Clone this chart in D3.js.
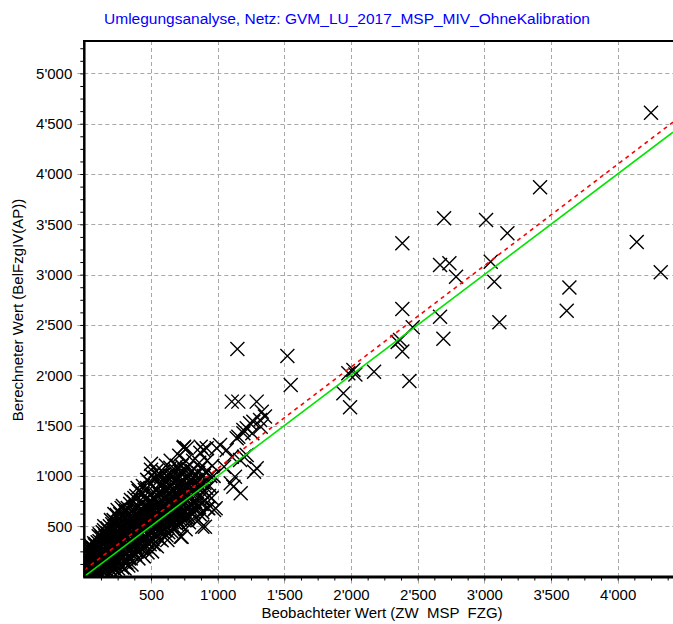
<!DOCTYPE html>
<html>
<head>
<meta charset="utf-8">
<script src="https://cdn.jsdelivr.net/npm/d3@7"></script>
<style>
  body { margin: 0; background: #fff; }
  text { font-family: "Liberation Sans", Arial, sans-serif; }
</style>
</head>
<body>
<script>
var titel = "Umlegungsanalyse, Netz: GVM_LU_2017_MSP_MIV_OhneKalibration";
var xTitel = "Beobachteter Wert (ZW  MSP  FZG)";
var yTitel = "Berechneter Wert (BelFzgIV(AP))";

var xTicks = [500, 1000, 1500, 2000, 2500, 3000, 3500, 4000];
var yTicks = [500, 1000, 1500, 2000, 2500, 3000, 3500, 4000, 4500, 5000];
var xMax = 4415, yMax = 5322;

// Regressionsgerade: Achsenabschnitt, Steigung
var regression = [65, 1.008];

// einzelne Punkte (beobachtet, berechnet)
var punkteStreu = [
  [4250,4610],[3418,3869],[2698,3561],[3013,3544],[3173,3412],[2385,3312],[4143,3325],
  [2668,3096],[2738,3113],[2788,2980],[3048,3129],[3075,2930],[4323,3024],[3638,2871],
  [3618,2642],[2385,2659],[2668,2582],[2463,2477],[3113,2527],[2693,2364],[2368,2351],
  [2350,2330],[2385,2235],[2173,2036],[2438,1943],[1148,2261],[1523,2192],[1548,1904],
  [1980,2020],[2018,2053],[2033,2008],[1943,1821],[1993,1682],
  [1106,1738],[1155,1738],[1293,1738],[1331,1638],[1355,1589],[1318,1556],[1268,1539],
  [1243,1523],[1218,1473],[1193,1456],[1193,1423],[1155,1390],[1143,1374],[1260,1423],
  [1323,1489],[768,1274],[893,1257],[918,1274],[993,1274],[1018,1307],[1068,1257],
  [1106,1191],[1168,1158],[1218,1208],[1198,1191],[1293,1076],[1273,1042],[1048,1091],
  [1130,992],[1098,926],[1118,893],[1173,827],[930,678],[973,661],[985,678],[860,694],
  [905,495],[885,495],[730,396],[723,396],[623,363],[873,1290],[748,1290]
];

// dichte Punktwolke bei kleinen Werten
var punkteBallung = [
  [8,15],[12,95],[15,180],[18,260],[22,45],[28,130],[30,220],[35,300],[40,20],[45,85],
  [48,170],[52,250],[58,40],[62,120],[66,200],[70,280],[74,330],[78,70],[82,150],[86,230],
  [90,20],[95,100],[98,300],[102,180],[106,260],[110,50],[114,350],[118,130],[120,220],
  [125,400],[128,30],[132,90],[136,170],[140,250],[144,320],[148,460],[152,60],[156,140],
  [160,210],[164,290],[168,370],[172,430],[176,100],[180,180],[184,260],[188,340],[192,500],
  [196,30],[200,130],[204,220],[208,300],[212,390],[216,460],[220,560],[224,80],[228,170],
  [232,250],[236,330],[240,410],[244,610],[248,500],[252,40],[256,140],
  [260,220],[264,300],[268,380],[272,460],[276,540],[280,680],[284,90],[288,190],[292,270],
  [296,350],[300,430],[304,510],[308,590],[312,650],[316,140],[320,230],[324,310],[328,390],
  [332,470],[336,550],[340,620],[344,720],[348,180],[352,270],[356,350],[360,430],[364,510],
  [368,590],[372,660],[376,780],[380,220],[384,300],[388,380],[392,460],[396,540],[400,620],
  [404,700],[408,850],
  [412,250],[416,340],[420,420],[424,500],[428,580],[432,660],[436,740],[440,900],[444,300],
  [448,380],[452,460],[456,540],[460,620],[464,700],[468,780],[472,960],[476,330],[480,420],
  [484,500],[488,580],[492,660],[496,740],[500,820],[504,1000],[500,1120],[508,250],[512,370],
  [516,450],[520,530],[524,610],[528,690],[532,770],[536,860],[540,1050],[544,300],[548,400],
  [552,490],[556,570],[560,650],
  [564,730],[568,810],[572,900],[576,1000],[580,360],[584,450],[588,530],[592,610],[596,690],
  [600,770],[604,850],[608,940],[612,1100],[616,410],[620,500],[624,580],[628,660],[632,740],
  [636,820],[640,900],[644,1000],[648,1150],[652,450],[656,540],[660,620],[664,700],[668,780],
  [672,860],[676,950],[680,1060],[684,480],[688,570],[692,650],[696,730],[700,810],[704,890],
  [708,980],[712,1200],[716,520],[720,610],
  [724,690],[728,770],[732,850],[736,930],[740,1020],[744,1280],[748,560],[752,650],[756,730],
  [760,470],[760,810],[764,890],[768,970],[772,1080],[780,600],[786,700],[792,790],[798,880],
  [804,960],[810,1050],[816,1150],[822,640],[830,750],[838,850],[846,940],[854,1030],[862,1130],
  [870,1230],[880,720],[890,830],[900,930],[910,1040],[920,1150],[935,800],[945,1000],[960,1100],
  [50,100],[75,250],[105,90],[130,330],[150,240],[170,60],[190,410],[210,150],[230,470],
  [250,360],[270,120],[290,400],[310,300],[330,200],[350,500],[370,400],[390,600],[410,520],
  [430,350],[450,700],[470,520],[490,400],[510,640],[530,560],[550,800],[570,470],[590,740],
  [610,560],[630,950],[650,700],[670,600],[690,900],[710,720],[730,1100],[750,900],
  [5,60],[10,200],[20,300],[25,150],[32,60],[38,240],[42,120],[55,190],[60,280],[65,10],
  [68,90],[72,160],[80,310],[85,40],[88,180],[92,260],[96,140],[100,40],[100,340],
  [108,400],[112,200],[116,290],[122,70],[126,160],[134,380],[138,440],[142,120],[146,200],
  [150,500],[154,330],[158,400],[162,70],[166,150],[170,300],[174,480],[178,220],[182,400],
  [186,120],[190,250],[194,330],[198,440],[200,560],
  [202,60],[206,180],[210,520],[214,280],[218,350],[222,420],[226,620],[230,120],[234,200],
  [238,540],[242,290],[246,440],[250,660],[254,80],[258,200],[262,480],[266,560],[270,620],
  [274,260],[278,330],[282,420],[286,500],[290,700],[294,150],[298,580],
  [302,80],[306,220],[310,640],[314,380],[318,460],[322,540],[326,680],[330,110],[334,280],
  [338,360],[342,440],[346,600],[350,760],[354,120],[358,220],[362,560],[366,660],[370,740],
  [374,320],[378,460],[382,540],[386,690],[390,800],[394,250],[398,400],[400,880],
  [406,180],[410,600],[414,460],[418,650],[422,760],[426,280],[430,420],[434,540],[438,820],
  [442,620],[446,200],[450,480],[454,860],[458,400],[462,560],[466,660],[470,880],[474,240],
  [478,600],[482,740],[486,940],[490,320],[494,520],[498,680],[500,1060],
  [505,460],[510,740],[515,900],[520,320],[525,580],[530,980],[535,420],[540,700],[545,860],
  [550,620],[555,1000],[560,380],[565,540],[570,680],[575,820],[580,940],[585,620],[590,1040],
  [595,400],[600,520],[605,700],[610,800],[615,1000],[620,660],[625,860],[630,440],[635,560],
  [640,760],[645,1080],[650,900],
  [655,500],[660,840],[665,1000],[670,700],[675,540],[680,760],[685,960],[690,620],[695,1100],
  [700,560],[705,800],[710,660],[715,940],[720,1040],[725,560],[730,820],[735,640],[740,960],
  [745,720],[750,1060],[755,600],[760,1150],[765,680],[770,800],[775,1000],[785,540],[795,640],
  [805,880],[815,740],[825,1000],
  [835,680],[845,820],[855,560],[865,900],[875,1080],[885,640],[895,1000],[905,760],[915,880],
  [925,680],[940,900],[955,780],[970,1000],
  [115,20],[135,60],[145,280],[165,240],[185,300],[195,180],[205,360],[215,100],[225,300],
  [235,380],[245,160],[255,250],[265,420],[275,180],[285,340],[295,460],[305,140],[315,300],
  [325,440],[335,180],[345,360],[355,420],[365,250],[375,560],[385,360],[395,480],[405,300],
  [415,560],[425,380],[435,620],[445,460],[455,640],[465,300],[475,480],[485,620],[495,440],
  [505,560],[515,680],[525,420],[535,620],[545,520],[555,720],[565,460],[575,600],[585,760],
  [595,560],[605,460],[615,620],[625,740],[635,680],[645,560],[655,760],[665,620],[675,820],
  [685,700],[695,520],[705,620],[715,780],[725,880],[735,720],[745,620],[755,860],[765,760],
  [775,580],[785,820],[795,940],[805,700],[815,620],[825,820],[835,960],[845,720],[855,880],
  [865,620],[875,780],[885,940],[30,180],[45,40],[55,300],[70,120],[85,320],[90,90],[105,200],
  [115,420],[125,250],[140,340],[155,420],[170,200],[180,460],[200,260],[210,410],[220,240],
  [240,240],[260,520],[280,260],[300,360],[320,600],[340,500],[360,340],[380,620],[400,460],
  [420,560],[440,380],[460,760],[480,560],[500,660],[520,780],[540,480],[560,840],[580,680],
  [600,880]
];

var width = 673, height = 624;
var m = {left: 84.3, right: 673, top: 41, bottom: 576.5};

var svg = d3.select("body").append("svg")
    .attr("width", width)
    .attr("height", height);

svg.append("rect").attr("width", width).attr("height", height).attr("fill", "#fff");

var x = d3.scaleLinear().domain([0, xMax]).range([m.left, m.right]);
var y = d3.scaleLinear().domain([0, yMax]).range([m.bottom, m.top]);

var fmt = d3.formatLocale({decimal: ".", thousands: "'", grouping: [3], currency: ["", ""]}).format(",");

svg.append("clipPath").attr("id", "plot")
  .append("rect")
    .attr("x", m.left).attr("y", m.top)
    .attr("width", m.right - m.left).attr("height", m.bottom - m.top);

// Gitter
var grid = svg.append("g")
    .attr("stroke", "#a8a8a8")
    .attr("stroke-width", 1)
    .attr("stroke-dasharray", "4,3");

grid.selectAll("line.v").data(xTicks).enter().append("line")
    .attr("x1", function(d) { return Math.round(x(d)) + 0.5; })
    .attr("x2", function(d) { return Math.round(x(d)) + 0.5; })
    .attr("y1", m.top)
    .attr("y2", m.bottom + 7);

grid.selectAll("line.h").data(yTicks).enter().append("line")
    .attr("y1", function(d) { return Math.round(y(d)) + 0.5; })
    .attr("y2", function(d) { return Math.round(y(d)) + 0.5; })
    .attr("x1", m.left - 7)
    .attr("x2", m.right);

// Punkte
var kreuz = "M-7,-7L7,7M-7,7L7,-7";
var punkte = svg.append("g").attr("clip-path", "url(#plot)");

punkte.selectAll("path.b").data(punkteBallung).enter().append("path")
    .attr("d", kreuz)
    .attr("transform", function(d) { return "translate(" + x(d[0]) + "," + y(d[1]) + ")"; })
    .attr("fill", "none")
    .attr("stroke", "#000")
    .attr("stroke-width", 1.5);

punkte.selectAll("path.s").data(punkteStreu).enter().append("path")
    .attr("d", kreuz)
    .attr("transform", function(d) { return "translate(" + x(d[0]) + "," + y(d[1]) + ")"; })
    .attr("fill", "none")
    .attr("stroke", "#000")
    .attr("stroke-width", 1.4);

// Geraden
var line = d3.line()
    .x(function(d) { return x(d[0]); })
    .y(function(d) { return y(d[1]); });

var lines = svg.append("g").attr("clip-path", "url(#plot)");

lines.append("path")
    .datum([[0, 0], [xMax, xMax]])
    .attr("d", line)
    .attr("fill", "none")
    .attr("stroke", "#00e400")
    .attr("stroke-width", 1.6);

lines.append("path")
    .datum([[0, regression[0]], [xMax, regression[0] + regression[1] * xMax]])
    .attr("d", line)
    .attr("fill", "none")
    .attr("stroke", "#ff0000")
    .attr("stroke-width", 1.6)
    .attr("stroke-dasharray", "4,4");

// Achsen
var minorX = d3.range(125, xMax, 125);
var minorY = d3.range(125, yMax, 125);

svg.append("g")
    .attr("transform", "translate(0," + m.bottom + ")")
    .call(d3.axisBottom(x).tickValues(minorX).tickSize(4).tickFormat(""))
    .call(function(g) { g.select(".domain").remove(); });

svg.append("g")
    .attr("transform", "translate(" + m.left + ",0)")
    .call(d3.axisLeft(y).tickValues(minorY).tickSize(4).tickFormat(""))
    .call(function(g) { g.select(".domain").remove(); });

svg.append("g")
    .attr("transform", "translate(0," + m.bottom + ")")
    .call(d3.axisBottom(x).tickValues(xTicks).tickSize(0).tickPadding(13).tickFormat(fmt))
    .call(function(g) {
      g.select(".domain").remove();
      g.selectAll("text").attr("font-size", 15).attr("font-family", "Liberation Sans, Arial, sans-serif").attr("fill", "#000");
    });

svg.append("g")
    .attr("transform", "translate(" + m.left + ",0)")
    .call(d3.axisLeft(y).tickValues(yTicks).tickSize(0).tickPadding(12).tickFormat(fmt))
    .call(function(g) {
      g.select(".domain").remove();
      g.selectAll("text").attr("font-size", 15).attr("font-family", "Liberation Sans, Arial, sans-serif").attr("fill", "#000");
    });

// Rahmen
svg.append("line")
    .attr("x1", m.left).attr("x2", m.left)
    .attr("y1", m.top - 1).attr("y2", m.bottom + 1)
    .attr("stroke", "#000").attr("stroke-width", 2.5);

svg.append("line")
    .attr("x1", m.left - 1).attr("x2", m.right)
    .attr("y1", m.bottom + 0.5).attr("y2", m.bottom + 0.5)
    .attr("stroke", "#000").attr("stroke-width", 3);

svg.append("line")
    .attr("x1", m.left - 1).attr("x2", m.right)
    .attr("y1", m.top).attr("y2", m.top)
    .attr("stroke", "#000").attr("stroke-width", 2);

// Beschriftung
svg.append("text")
    .attr("x", 347)
    .attr("y", 24)
    .attr("text-anchor", "middle")
    .attr("font-size", 15.5)
    .attr("fill", "#0000ff")
    .text(titel);

svg.append("text")
    .attr("x", 382)
    .attr("y", 618)
    .attr("text-anchor", "middle")
    .attr("font-size", 15)
    .style("white-space", "pre")
    .text(xTitel);

svg.append("text")
    .attr("transform", "translate(23,310)rotate(-90)")
    .attr("text-anchor", "middle")
    .attr("font-size", 15)
    .text(yTitel);
</script>
</body>
</html>
